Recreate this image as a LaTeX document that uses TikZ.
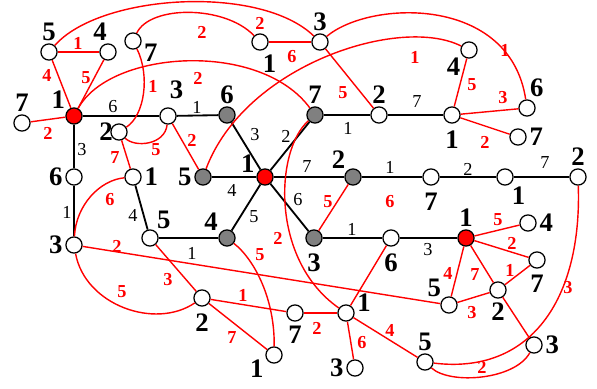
\documentclass[tikz,border=0pt]{standalone}
\usepackage{fontspec}
\setmainfont{Liberation Serif}
\usepackage{tikz}
\definecolor{edgered}{RGB}{255,0,0}
\definecolor{midgrey}{RGB}{128,128,128}
\tikzset{
  wv/.style={circle,draw,fill=white,line width=0.9pt,minimum size=11.5pt,inner sep=0pt},
  rv/.style={wv,fill=edgered},
  gv/.style={wv,fill=midgrey},
  vl/.style={font=\bfseries\fontsize{19}{19}\selectfont,inner sep=0pt},
  be/.style={line width=1.3pt},
  re/.style={edgered,line width=1pt},
  bl/.style={font=\fontsize{13}{13}\selectfont,inner sep=0pt,text=black},
  rl/.style={font=\bfseries\fontsize{13}{13}\selectfont,inner sep=0pt,text=edgered}
}

\begin{document}
\begin{tikzpicture}[x=0.025cm,y=-0.025cm,label distance=1.8pt,every label/.append style={vl}]
  \useasboundingbox (0,0) rectangle (597,388);
  % vertices, top part
  \node[wv,label=90:5] (tl5) at (49,52) {};
  \node[wv,label=95:4] (tl4) at (108,52) {};
  \node[wv,label=-15:7] (tl7) at (133,41) {};
  \node[rv,label=140:1] (lr) at (74,116) {};
  \node[wv,label=90:7] (far7) at (22,123) {};
  \node[wv,label={[label distance=6pt]85:3}] (t3) at (168,116) {};
  \node[wv,label={[label distance=-2pt]180:2}] (t2) at (119,132) {};
  \node[gv,label=90:6] (g6) at (227,115) {};
  \node[gv,label=90:7] (g7) at (315,115) {};
  \node[wv,label=90:2] (t2r) at (379,115) {};
  \node[wv,label={[label distance=5pt]-90:1}] (r1) at (452,115) {};
  \node[wv,label=220:4] (r4) at (469,50) {};
  \node[wv,label=75:6] (r6) at (527,108) {};
  \node[wv,label=0:7] (r7) at (518,137) {};
  \node[wv,label={[label distance=3pt]-78:1}] (top1) at (260,42) {};
  \node[wv,label=90:3] (top3) at (320,42) {};
  % vertices, middle
  \node[rv,label=156:1] (hub) at (265,177) {};
  \node[gv,label=180:5] (g5) at (203,177) {};
  \node[gv,label=132:2] (g2) at (353,177) {};
  \node[gv,label=142:4] (g4) at (227,238) {};
  \node[gv,label={[label distance=5pt]-90:3}] (g3) at (314,238) {};
  \node[wv,label=180:6] (l6) at (74,177) {};
  \node[wv,label=0:1] (l1) at (133,177) {};
  \node[wv,label=180:3] (l3) at (74,245) {};
  \node[wv,label=52:5] (l5) at (150,238) {};
  \node[wv,label={[label distance=5pt]-90:7}] (m7) at (431,177) {};
  \node[wv,label=-54:1] (m1) at (505,177) {};
  \node[wv,label=90:2] (m2) at (578,177) {};
  \node[wv,label={[label distance=5pt]-90:6}] (m6) at (391,238) {};
  \node[rv,label=90:1] (rr) at (466,238) {};
  \node[wv,label=0:4] (rr4) at (528,223) {};
  % vertices, bottom
  \node[wv,label={[label distance=5pt]-90:2}] (b2) at (202,298) {};
  \node[wv,label={[label distance=3pt]-90:7}] (b7) at (295,313) {};
  \node[wv,label=8:1] (b1) at (346,313) {};
  \node[wv,label=204:1] (b1l) at (274,355) {};
  \node[wv,label=180:3] (b3) at (355,368) {};
  \node[wv,label=90:5] (b5) at (425,362) {};
  \node[wv,label=0:3] (br3) at (534,345) {};
  \node[wv,label={[label distance=3pt]-90:2}] (br2) at (498,290) {};
  \node[wv,label=133:5] (br5) at (449,305) {};
  \node[wv,label={[label distance=4pt]-90:7}] (br7) at (537,260) {};

  % black tree edges
  \draw[be] (lr) -- (t3) node[bl] at (113,107) {6};
  \draw[be] (t3) -- (g6) node[bl] at (197,107) {1};
  \draw[be] (g6) -- (hub) node[bl] at (255,135) {3};
  \draw[be] (g7) -- (hub) node[bl] at (286,136) {2};
  \draw[be] (g7) -- (t2r) node[bl] at (348,128) {1};
  \draw[be] (t2r) -- (r1) node[bl] at (417,102) {7};
  \draw[be] (lr) -- (l6) node[bl] at (82,150) {3};
  \draw[be] (l6) -- (l3) node[bl] at (67,212) {1};
  \draw[be] (l1) -- (l5) node[bl] at (133,215) {4};
  \draw[be] (l5) -- (g4) node[bl] at (192,253) {1};
  \draw[be] (g5) -- (hub) node[bl] at (232,190) {4};
  \draw[be] (hub) -- (g2) node[bl] at (307,167) {7};
  \draw[be] (hub) -- (g4) node[bl] at (254,217) {5};
  \draw[be] (hub) -- (g3) node[bl] at (298,200) {6};
  \draw[be] (g2) -- (m7) node[bl] at (390,167) {1};
  \draw[be] (m7) -- (m1) node[bl] at (468,169) {2};
  \draw[be] (m1) -- (m2) node[bl] at (545,163) {7};
  \draw[be] (g3) -- (m6) node[bl] at (352,229) {1};
  \draw[be] (m6) -- (rr) node[bl] at (428,250) {3};

  % red straight edges
  \draw[re] (tl5) -- (tl4) node[rl] at (78,43) {1};
  \draw[re] (tl5) -- (lr) node[rl] at (47,75) {4};
  \draw[re] (tl4) -- (lr) node[rl] at (86,78) {5};
  \draw[re] (lr) -- (far7) node[rl] at (48,133) {2};
  \draw[re] (top1) -- (top3) node[rl] at (292,57) {6};
  \draw[re] (top3) -- (t2r) node[rl] at (343,93) {5};
  \draw[re] (t3) -- (g5) node[rl] at (192,140) {2};
  \draw[re] (r4) -- (r1) node[rl] at (472,85) {5};
  \draw[re] (r1) -- (r6) node[rl] at (503,98) {3};
  \draw[re] (r1) -- (r7) node[rl] at (485,142) {2};
  \draw[re] (t2) -- (l1) node[rl] at (115,158) {7};
  \draw[re] (g2) -- (g3) node[rl] at (328,202) {5};
  \draw[re] (m6) -- (b1) node[rl] at (390,202) {6};
  \draw[re] (l3) -- (br5) node[rl] at (117,246) {2};
  \draw[re] (l5) -- (b2) node[rl] at (168,280) {3};
  \draw[re] (b2) -- (b7) node[rl] at (243,295) {1};
  \draw[re] (b2) -- (b1l) node[rl] at (232,338) {7};
  \draw[re] (b7) -- (b1) node[rl] at (317,328) {2};
  \draw[re] (b1) -- (b3) node[rl] at (362,343) {6};
  \draw[re] (b1) -- (b5) node[rl] at (390,330) {4};
  \draw[re] (rr) -- (rr4) node[rl] at (498,220) {5};
  \draw[re] (rr) -- (br7) node[rl] at (512,243) {2};
  \draw[re] (rr) -- (br5) node[rl] at (448,273) {4};
  \draw[re] (rr) -- (br2) node[rl] at (475,275) {7};
  \draw[re] (br2) -- (br7) node[rl] at (510,270) {1};
  \draw[re] (br5) -- (br2) node[rl] at (472,313) {3};
  \draw[re] (br2) -- (br3);

  % red arcs
  \draw[re] (tl5) .. controls (100,-6) and (260,-16) .. (top3) node[rl] at (260,23) {2};
  \draw[re] (tl7) .. controls (150,5) and (225,5) .. (top1) node[rl] at (202,32) {2};
  \draw[re] (lr) .. controls (110,50) and (260,40) .. (g7) node[rl] at (198,78) {2};
  \draw[re] (tl7) .. controls (150,75) and (145,115) .. (t2) node[rl] at (153,86) {1};
  \draw[re] (t2) .. controls (135,148) and (165,145) .. (t3) node[rl] at (156,150) {5};
  \draw[re] (g5) .. controls (245,65) and (400,15) .. (r4) node[rl] at (415,57) {1};
  \draw[re] (top3) .. controls (370,0) and (510,-5) .. (r6) node[rl] at (505,50) {1};
  \draw[re] (l1) .. controls (100,180) and (76,205) .. (l3) node[rl] at (110,200) {6};
  \draw[re] (l3) .. controls (85,305) and (155,330) .. (b2) node[rl] at (122,292) {5};
  \draw[re] (g7) .. controls (275,150) and (270,260) .. (b1) node[rl] at (278,238) {2};
  \draw[re] (g4) .. controls (255,260) and (275,300) .. (b1l) node[rl] at (260,255) {5};
  \draw[re] (m2) .. controls (582,300) and (530,375) .. (b5) node[rl] at (568,288) {3};
  \draw[re] (b5) .. controls (450,385) and (515,380) .. (br3) node[rl] at (482,367) {2};
\end{tikzpicture}
\end{document}
